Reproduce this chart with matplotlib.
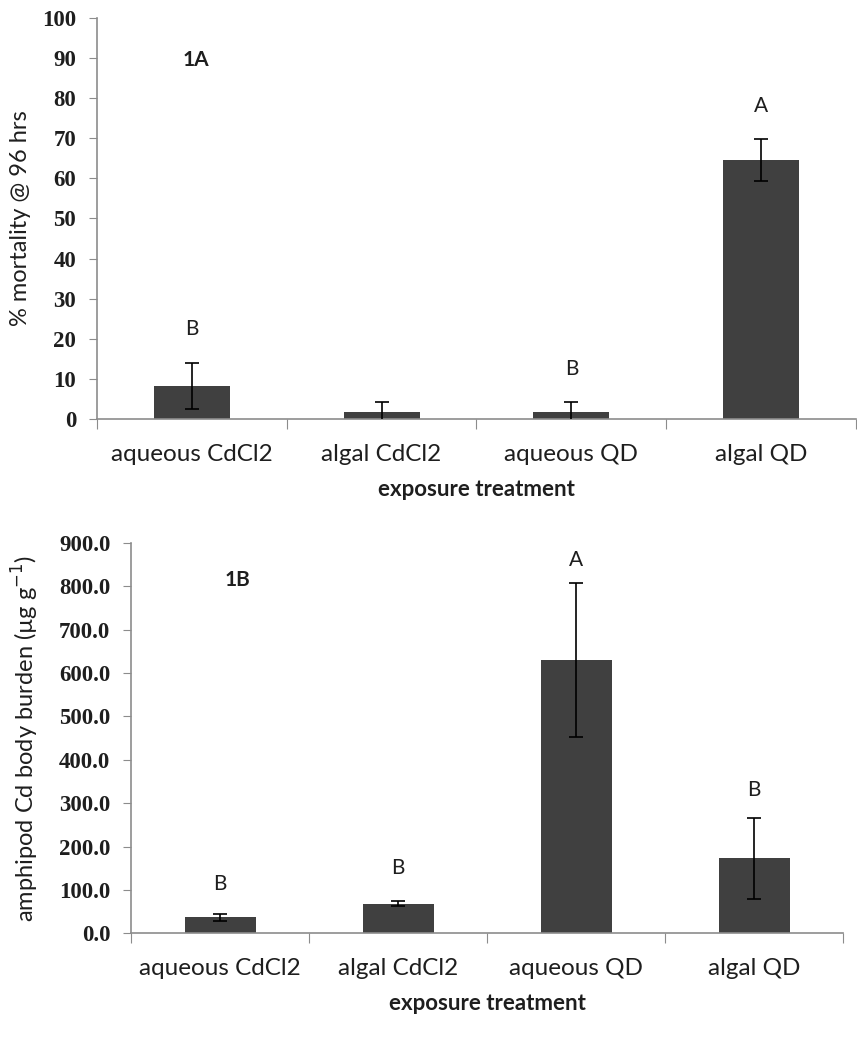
import matplotlib.pyplot as plt
import numpy as np

# data
treatments = ["aqueous CdCl2", "algal CdCl2", "aqueous QD", "algal QD"]
mortality = [8.3, 1.7, 1.7, 64.5]
mortality_err = [5.7, 2.5, 2.5, 5.3]
mortality_letters = ["B", "", "B", "A"]
mortality_letter_y = [22.5, None, 12.5, 78]

burden = [37, 69, 630, 173]
burden_err = [8, 5, 177, 93]
burden_letters = ["B", "B", "A", "B"]
burden_letter_y = [115, 150, 860, 330]

bar_color = "#404040"
axis_color = "#8c8c8c"
text_color = "#1e1e1e"
sans = "Lato"
serif = "Liberation Serif"

fig = plt.figure(figsize=(8.57, 10.5), dpi=100)
ax1 = fig.add_axes([0.113, 0.601, 0.886, 0.382])
ax2 = fig.add_axes([0.153, 0.111, 0.831, 0.372])


def style_axis(ax, ymax, step, fmt, ylabel, ylabel_x, ypad):
    x = np.arange(len(treatments))
    ticks = np.arange(0, ymax + step / 2, step)
    ax.set_xlim(-0.5, len(treatments) - 0.5)
    ax.set_ylim(0, ymax)
    ax.set_yticks(ticks)
    ax.set_yticklabels([fmt.format(v) for v in ticks], family=serif, fontsize=16.5,
                       fontweight="bold", color=text_color)
    # category ticks at boundaries, labels at centres
    ax.set_xticks(np.arange(-0.5, len(treatments)))
    ax.set_xticklabels([])
    ax.set_xticks(x, minor=True)
    ax.set_xticklabels(treatments, minor=True, family=sans, fontsize=17.5, color=text_color)
    ax.tick_params(axis="x", which="major", length=7, color=axis_color, direction="out")
    ax.tick_params(axis="x", which="minor", length=0, pad=18)
    ax.tick_params(axis="y", length=6, color=axis_color, direction="out", pad=ypad)
    for s in ["top", "right"]:
        ax.spines[s].set_visible(False)
    for s in ["left", "bottom"]:
        ax.spines[s].set_color(axis_color)
        ax.spines[s].set_linewidth(1.2)
    ax.set_xlabel("exposure treatment", family=sans, fontsize=16, fontweight="bold",
                  labelpad=10, color=text_color)
    ax.set_ylabel(ylabel, family=sans, fontsize=17, color=text_color)
    ax.yaxis.set_label_coords(ylabel_x, 0.5)


# panel 1A
x = np.arange(len(treatments))
ax1.bar(x, mortality, width=0.4, color=bar_color, zorder=2)
ax1.errorbar(x, mortality, yerr=mortality_err, fmt="none", ecolor="black",
             elinewidth=1.2, capsize=5, capthick=1.2, zorder=3)
for xi, lab, yy in zip(x, mortality_letters, mortality_letter_y):
    if lab:
        ax1.text(xi, yy, lab, ha="center", va="center", family=sans, fontsize=15,
                 color=text_color)
ax1.text(0.02, 89.5, "1A", ha="center", va="center", family=sans, fontsize=15,
         fontweight="bold", color=text_color)
style_axis(ax1, 100, 10, "{:.0f}", "% mortality @ 96 hrs", -0.087, 9)

# panel 1B
ax2.bar(x, burden, width=0.4, color=bar_color, zorder=2)
ax2.errorbar(x, burden, yerr=burden_err, fmt="none", ecolor="black",
             elinewidth=1.2, capsize=5, capthick=1.2, zorder=3)
for xi, lab, yy in zip(x, burden_letters, burden_letter_y):
    ax2.text(xi, yy, lab, ha="center", va="center", family=sans, fontsize=15,
             color=text_color)
ax2.text(0.1, 815, "1B", ha="center", va="center", family=sans, fontsize=15,
         fontweight="bold", color=text_color)
style_axis(ax2, 900, 100, "{:.1f}", "amphipod Cd body burden (µg g$^{-1}$)", -0.126, 9)

fig.savefig("out.png", dpi=100)
